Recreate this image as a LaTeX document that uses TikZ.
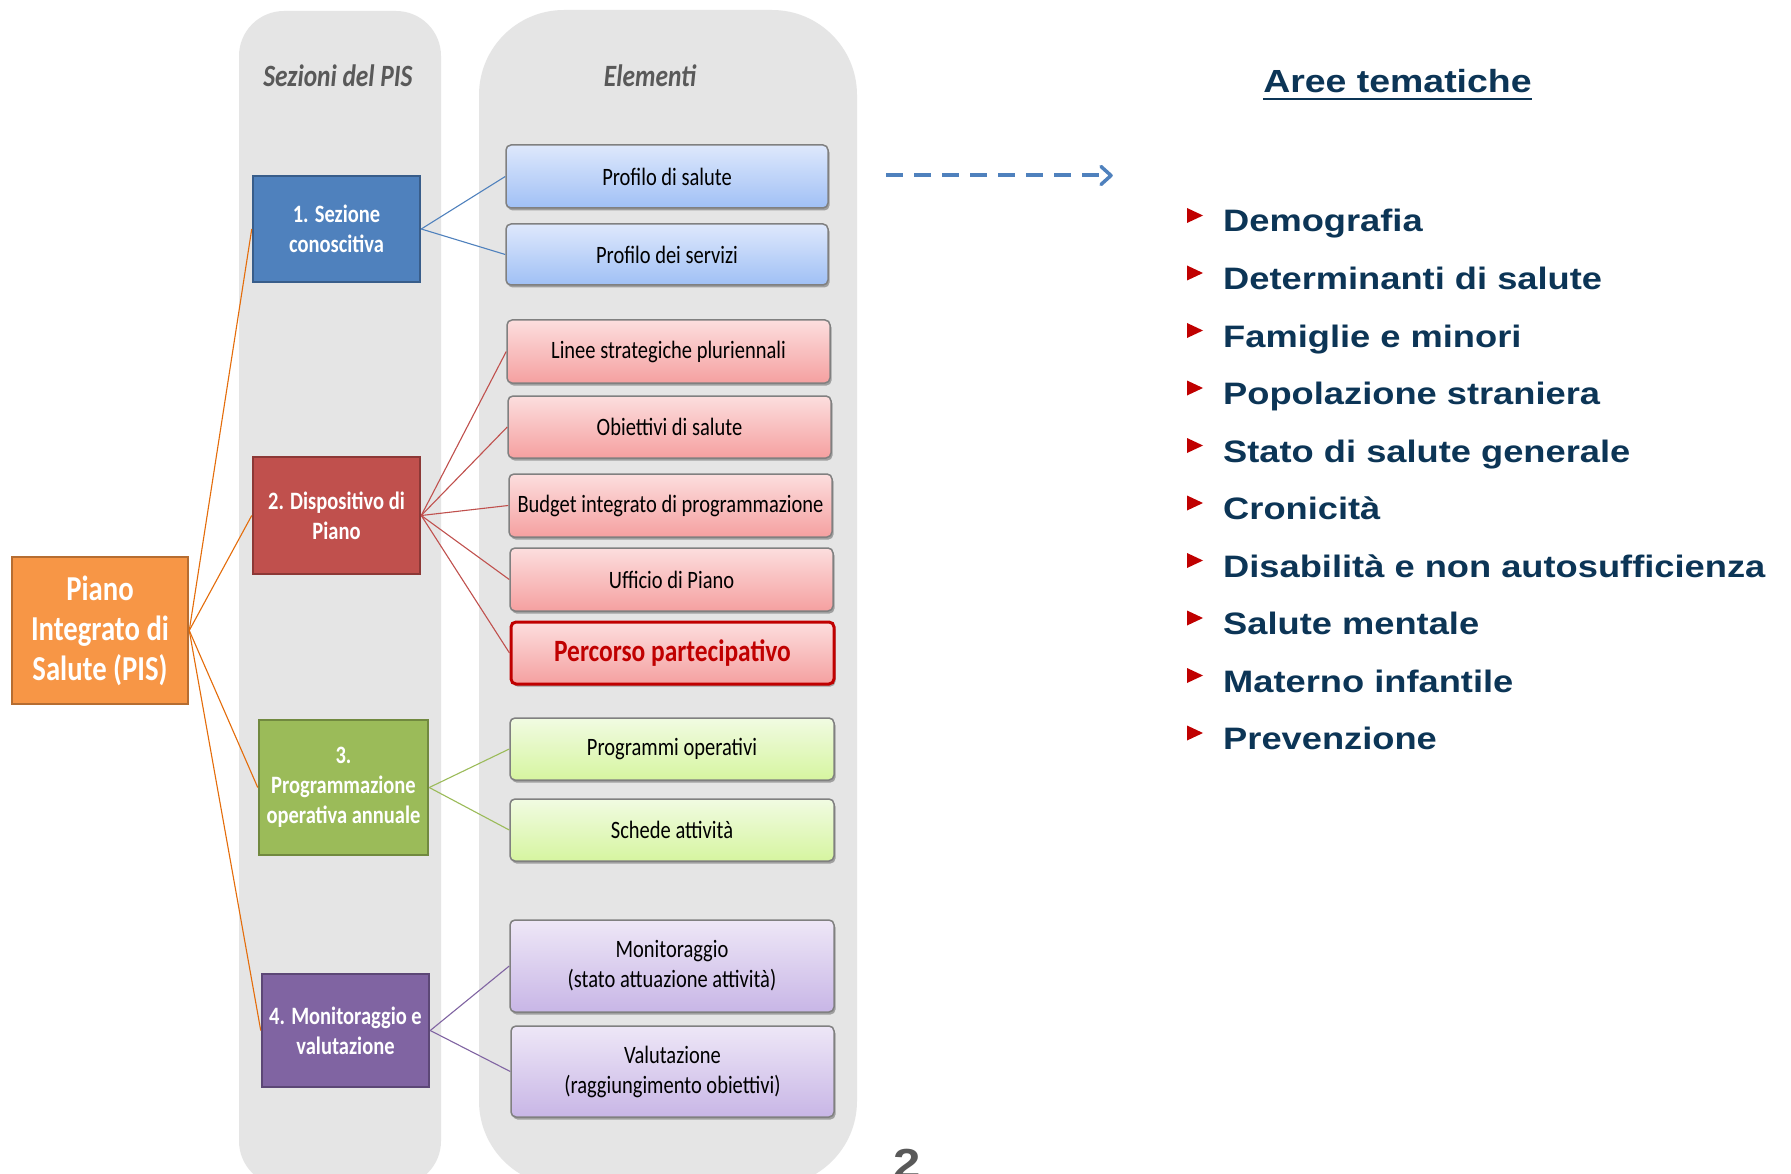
\documentclass[tikz,border=0pt]{standalone}
\usepackage{fontspec}
\usetikzlibrary{shadows,arrows.meta}
\newfontfamily\calfont[FakeStretch=0.82]{Carlito}
\newfontfamily\arfont[FakeStretch=1.17]{Liberation Sans}
\definecolor{colgray}{RGB}{229,229,229}
\definecolor{hdrgray}{RGB}{89,89,89}
\definecolor{navy}{RGB}{12,53,86}
\definecolor{bulred}{RGB}{192,0,0}
\definecolor{sblue}{RGB}{79,129,189}\definecolor{sblueb}{RGB}{56,93,138}
\definecolor{sred}{RGB}{192,80,77}\definecolor{sredb}{RGB}{140,56,54}
\definecolor{sgreen}{RGB}{155,187,89}\definecolor{sgreenb}{RGB}{113,137,63}
\definecolor{spurple}{RGB}{128,100,162}\definecolor{spurpleb}{RGB}{92,71,118}
\definecolor{sorange}{RGB}{247,150,70}\definecolor{sorangeb}{RGB}{182,109,49}
\definecolor{oline}{RGB}{228,108,10}
\definecolor{eblueT}{RGB}{222,232,252}\definecolor{eblueB}{RGB}{160,192,245}
\definecolor{eredT}{RGB}{252,222,222}\definecolor{eredB}{RGB}{245,160,160}
\definecolor{egreenT}{RGB}{241,251,226}\definecolor{egreenB}{RGB}{214,245,160}
\definecolor{epurpT}{RGB}{238,231,247}\definecolor{epurpB}{RGB}{200,182,230}
\definecolor{eborder}{RGB}{128,128,128}
\begin{document}
\begin{tikzpicture}[x=1pt,y=-1pt,
  secbox/.style={draw, line width=2.5pt, inner sep=0pt, align=center, text=white,
    font=\calfont\bfseries\fontsize{25}{30}\selectfont},
  elbox/.style={draw=eborder, line width=1.5pt, rounded corners=5pt, inner sep=0pt, align=center,
    font=\calfont\fontsize{25}{30}\selectfont,
    drop shadow={shadow xshift=1.5pt, shadow yshift=-2.5pt, opacity=0.3, fill=black}},
  blueel/.style={top color=eblueT, bottom color=eblueB},
  redel/.style={top color=eredT, bottom color=eredB},
  greenel/.style={top color=egreenT, bottom color=egreenB},
  purpel/.style={top color=epurpT, bottom color=epurpB},
  conn/.style={line width=1.1pt},
  item/.style={anchor=base west, inner sep=0pt, text=navy, font=\arfont\bfseries\fontsize{31}{36}\selectfont},
  hdr/.style={anchor=base, inner sep=0pt, text=hdrgray, font=\calfont\bfseries\itshape\fontsize{31}{36}\selectfont}
]
\useasboundingbox (0,0) rectangle (1791,1174);
\clip (0,0) rectangle (1791,1174);
\fill[white] (0,0) rectangle (1791,1174);
% columns
\fill[colgray, rounded corners=45pt] (239,11) rectangle (441,1186);
\fill[colgray, rounded corners=85pt] (479,10) rectangle (857,1186);
\node[hdr] (hsez) at (338,87) {Sezioni del PIS};
\node[hdr] (hel) at (650,87) {Elementi};
% main box
\node[secbox, fill=sorange, draw=sorangeb, minimum width=176pt, minimum height=147pt,
  font=\calfont\bfseries\fontsize{35}{40}\selectfont] (piano) at (100,630.5) {Piano\\Integrato di\\Salute (PIS)};
% section boxes
\node[secbox, fill=sblue, draw=sblueb, minimum width=167pt, minimum height=106pt] (s1) at (336.5,229) {1. Sezione\\conoscitiva};
\node[secbox, fill=sred, draw=sredb, minimum width=167pt, minimum height=117pt] (s2) at (336.5,515.5) {2. Dispositivo di\\Piano};
\node[secbox, fill=sgreen, draw=sgreenb, minimum width=169pt, minimum height=135pt] (s3) at (343.5,787.5) {3.\\Programmazione\\operativa annuale};
\node[secbox, fill=spurple, draw=spurpleb, minimum width=167pt, minimum height=113pt] (s4) at (345.5,1030.5) {4. Monitoraggio e\\valutazione};
% element boxes
\node[elbox, blueel, minimum width=322pt, minimum height=63pt] (e1) at (667,176.5) {Profilo di salute};
\node[elbox, blueel, minimum width=322pt, minimum height=61pt] (e2) at (667,254.5) {Profilo dei servizi};
\node[elbox, redel, minimum width=323pt, minimum height=63pt] (e3) at (668.5,351.5) {Linee strategiche pluriennali};
\node[elbox, redel, minimum width=323pt, minimum height=62pt] (e4) at (669.5,427) {Obiettivi di salute};
\node[elbox, redel, minimum width=323pt, minimum height=63pt] (e5) at (670.5,505.5) {Budget integrato di programmazione};
\node[elbox, redel, minimum width=323pt, minimum height=63pt] (e6) at (671.5,579.5) {Ufficio di Piano};
\node[elbox, redel, draw=bulred, line width=3pt, minimum width=323pt, minimum height=62pt, text=bulred,
  font=\calfont\bfseries\fontsize{31}{36}\selectfont] (e7) at (672.5,653) {Percorso partecipativo};
\node[elbox, greenel, minimum width=324pt, minimum height=62pt] (e8) at (672,749) {Programmi operativi};
\node[elbox, greenel, minimum width=324pt, minimum height=62pt] (e9) at (672,830) {Schede attività};
\node[elbox, purpel, minimum width=324pt, minimum height=92pt] (e10) at (672,966) {Monitoraggio\\(stato attuazione attività)};
\node[elbox, purpel, minimum width=323pt, minimum height=91pt] (e11) at (672.5,1071.5) {Valutazione\\(raggiungimento obiettivi)};
% connectors
\foreach \s in {s1,s2,s3,s4} \draw[conn, oline] (piano.east) -- (\s.west);
\foreach \e in {e1,e2} \draw[conn, sblue] (s1.east) -- (\e.west);
\foreach \e in {e3,e4,e5,e6,e7} \draw[conn, sred] (s2.east) -- (\e.west);
\foreach \e in {e8,e9} \draw[conn, sgreen] (s3.east) -- (\e.west);
\foreach \e in {e10,e11} \draw[conn, spurple] (s4.east) -- (\e.west);
% dashed arrow
\coordinate (arA) at (886,175.5);
\coordinate (arB) at (1111,175.5);
\draw[sblue, line width=4pt, dash pattern=on 17pt off 11pt] (arA) -- ([xshift=-4pt]arB);
\draw[sblue, line width=3.5pt, line cap=round, line join=round] ([xshift=-10pt,yshift=9pt]arB) -- (arB) -- ([xshift=-10pt,yshift=-9pt]arB);
% title
\node[anchor=base, inner sep=0pt, text=navy, font=\arfont\bfseries\fontsize{32}{36}\selectfont] (aree) at (1397.5,93) {Aree tematiche};
\draw[navy, line width=2pt] ([yshift=-6pt]aree.base west) -- ([yshift=-6pt]aree.base east);
% list
\foreach \t [count=\i from 0] in {Demografia,Determinanti di salute,Famiglie e minori,Popolazione straniera,Stato di salute generale,Cronicità,Disabilità e non autosufficienza,Salute mentale,Materno infantile,Prevenzione}{
  \pgfmathsetmacro{\b}{232+57.5*\i}
  \fill[bulred] (1187,\b-24) -- (1187,\b-9) -- (1203,\b-16.5) -- cycle;
  \node[item] (it\i) at (1223,\b) {\t};
}
% page number
\node[anchor=base, inner sep=0pt, text=hdrgray, font=\arfont\bfseries\fontsize{42}{46}\selectfont] (pnum) at (907,1178) {2};
\end{tikzpicture}
\end{document}
